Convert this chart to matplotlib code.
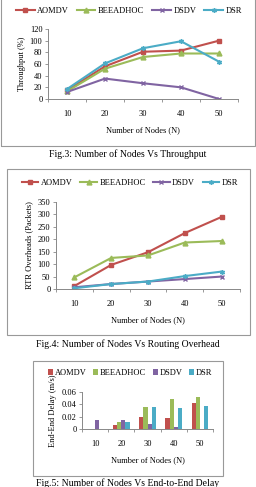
import numpy as np
import matplotlib
matplotlib.use("Agg")
import matplotlib.pyplot as plt
from matplotlib.patches import Rectangle

plt.rcParams['font.family'] = ['Liberation Serif', 'DejaVu Serif']

# data
nodes = ["10", "20", "30", "40", "50"]
series = ["AOMDV", "BEEADHOC", "DSDV", "DSR"]

thr_aomdv = [15, 56, 81, 83, 100]
thr_bee = [13, 52, 72, 78, 78]
thr_dsdv = [12, 35, 27, 20, 0]
thr_dsr = [17, 61, 87, 99, 64]

ovh_aomdv = [12, 97, 148, 225, 290]
ovh_bee = [47, 125, 135, 187, 193]
ovh_dsdv = [7, 20, 30, 40, 50]
ovh_dsr = [3, 20, 30, 52, 70]

dly_aomdv = [0, 0.007, 0.019, 0.018, 0.042]
dly_bee = [0, 0.011, 0.035, 0.048, 0.052]
dly_dsdv = [0.015, 0.014, 0.008, 0.004, 0]
dly_dsr = [0, 0.011, 0.036, 0.034, 0.037]

colors = ['#C0504D', '#9BBB59', '#8064A2', '#4BACC6']
markers = ['s', '^', 'x', (6, 2, 0)]

W, H = 256, 487
fig = plt.figure(figsize=(W / 100, H / 100), dpi=100)


def ax_px(x0, y0, x1, y1):
    # pixel box (top-left origin) -> figure axes
    return fig.add_axes([x0 / W, 1 - y1 / H, (x1 - x0) / W, (y1 - y0) / H])


def box_px(x0, y0, x1, y1):
    fig.patches.append(Rectangle((x0 / W, 1 - y1 / H), (x1 - x0) / W, (y1 - y0) / H,
                                 transform=fig.transFigure, fill=False,
                                 edgecolor='#999999', linewidth=0.8))


def style(ax):
    for s in ['top', 'right']:
        ax.spines[s].set_visible(False)
    for s in ['left', 'bottom']:
        ax.spines[s].set_color('#888888')
        ax.spines[s].set_linewidth(0.7)
    ax.tick_params(labelsize=6, length=2, width=0.6, color='#888888', pad=2)
    ax.set_xlim(-0.5, 4.5)
    ax.set_xticks(np.arange(-0.5, 5, 1), minor=False)
    ax.set_xticklabels([])
    ax.set_xticks(np.arange(5), minor=True)
    ax.set_xticklabels(nodes, minor=True)
    ax.tick_params(axis='x', which='minor', length=0, pad=8, labelsize=6)


def line_chart(ax, data, ylim, yticks, ylabel):
    x = np.arange(len(nodes))
    for vals, c, m, name in zip(data, colors, markers, series):
        ax.plot(x, vals, color=c, marker=m, markersize=3.5, linewidth=1.5, label=name,
                markeredgewidth=1)
    style(ax)
    ax.set_ylim(*ylim)
    ax.set_yticks(yticks)
    ax.set_ylabel(ylabel, fontsize=6, labelpad=3)
    ax.set_xlabel("Number of Nodes (N)", fontsize=6, labelpad=6)


def top_legend(ax, cx, cy, **kw):
    h, l = ax.get_legend_handles_labels()
    fig.legend(h, l, loc='center', bbox_to_anchor=(cx / W, 1 - cy / H), ncol=4,
               fontsize=6, frameon=False, borderaxespad=0, borderpad=0, **kw)


# Fig 3 - throughput
box_px(1, -5, 255, 146)
ax1 = ax_px(48, 29, 238, 99)
line_chart(ax1, [thr_aomdv, thr_bee, thr_dsdv, thr_dsr], (0, 120), range(0, 121, 20),
           "Throughput (%)")
top_legend(ax1, 129, 11, handlelength=2.2, columnspacing=1.0, handletextpad=0.3)
fig.text(0.5, 1 - 154 / H, "Fig.3: Number of Nodes Vs Throughput", ha='center',
         va='center', fontsize=7)

# Fig 4 - routing overhead
box_px(7, 169, 250, 335)
ax2 = ax_px(56, 202, 240, 289)
line_chart(ax2, [ovh_aomdv, ovh_bee, ovh_dsdv, ovh_dsr], (0, 350), range(0, 351, 50),
           "RTR Overheads (Packets)")
top_legend(ax2, 130, 183, handlelength=2.0, columnspacing=0.9, handletextpad=0.3)
fig.text(0.5, 1 - 344 / H, "Fig.4: Number of Nodes Vs Routing Overhead", ha='center',
         va='center', fontsize=7)

# Fig 5 - end-to-end delay
box_px(33, 361, 223, 476)
ax3 = ax_px(82, 392, 213, 429)
x = np.arange(len(nodes))
bw = 0.16
for i, (vals, c, name) in enumerate(zip([dly_aomdv, dly_bee, dly_dsdv, dly_dsr], colors, series)):
    ax3.bar(x + (i - 1.5) * bw, vals, width=bw, color=c, label=name)
style(ax3)
ax3.set_ylim(0, 0.06)
ax3.set_yticks([0, 0.02, 0.04, 0.06])
ax3.set_yticklabels(["0", "0.02", "0.04", "0.06"])
ax3.set_ylabel("End-End Delay (m/s)", fontsize=6, labelpad=3)
ax3.set_xlabel("Number of Nodes (N)", fontsize=6, labelpad=6)
top_legend(ax3, 130, 373, handlelength=0.6, handleheight=0.6, columnspacing=0.8,
           handletextpad=0.2)
fig.text(0.5, 1 - 483 / H, "Fig.5: Number of Nodes Vs End-to-End Delay", ha='center',
         va='center', fontsize=7)

fig.savefig("out.png", dpi=100)
